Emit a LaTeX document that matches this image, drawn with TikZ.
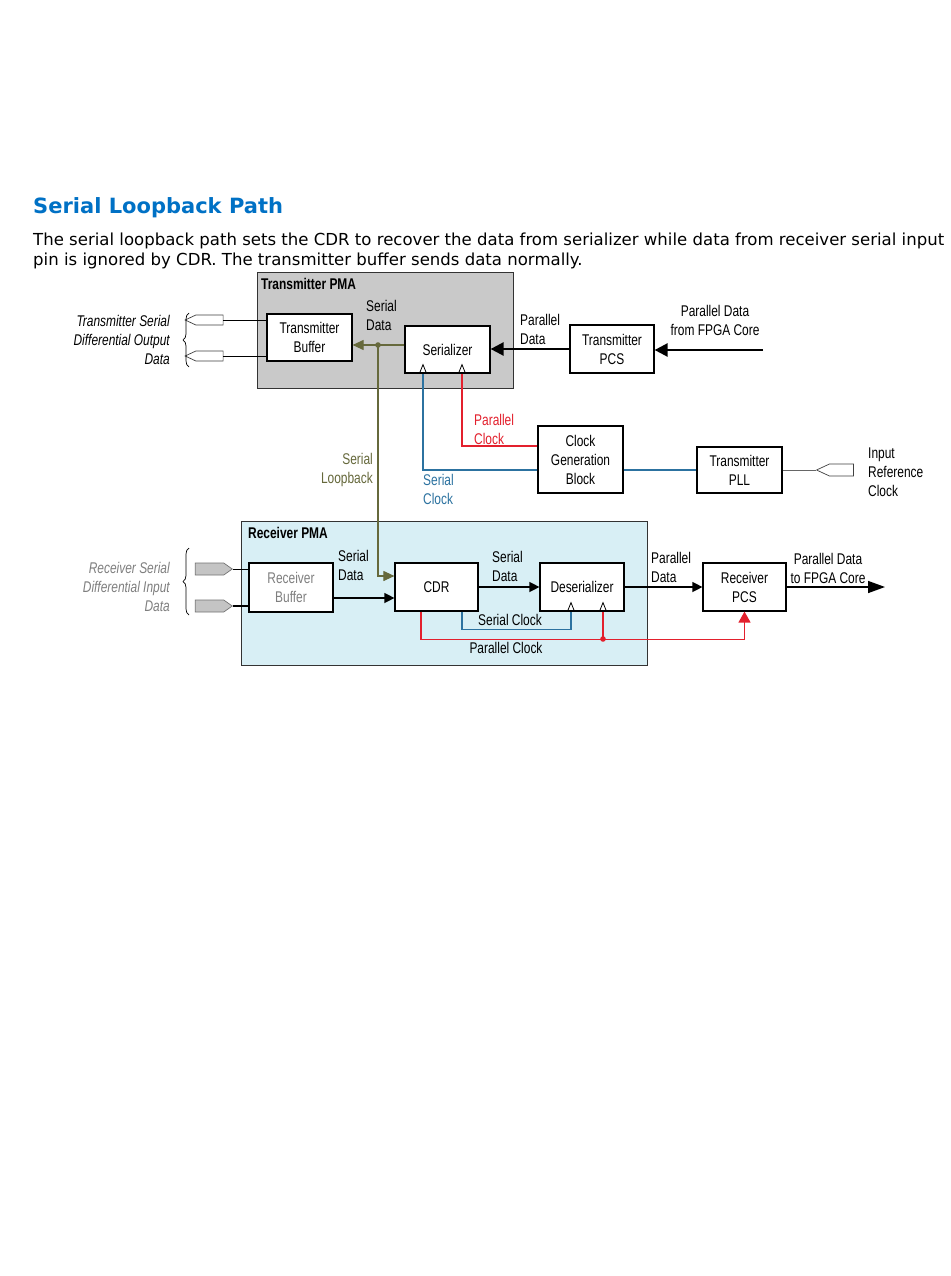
\documentclass[tikz,border=0pt]{standalone}
\usepackage{fontspec}
\usetikzlibrary{arrows.meta,calc,positioning,shapes.symbols,decorations.pathreplacing}
\newfontfamily\lbBody{DejaVu Sans}
\newfontfamily\lbCond[FakeStretch=0.77]{Liberation Sans}
\definecolor{lbTitle}{HTML}{0071C5}
\definecolor{lbTxFill}{HTML}{C9C9C9}
\definecolor{lbRxFill}{HTML}{D8EFF5}
\definecolor{lbOlive}{HTML}{66693C}
\definecolor{lbRed}{HTML}{E3202D}
\definecolor{lbBlue}{HTML}{2C72A0}
\definecolor{lbGrayText}{HTML}{7F7F7F}
\definecolor{lbPin}{HTML}{C4C4C4}
\tikzset{
 lbpic/.style={x=1pt,y=-1pt,line join=miter,font=\lbCond\fontsize{15.5}{19}\selectfont},
 blk/.style={draw,fill=white,line width=1.2pt,inner sep=0pt,minimum width=84pt,minimum height=48pt,align=center},
 pma/.style={draw=black!80,line width=1pt,inner sep=0pt},
 tag/.style={inner sep=0pt,align=left,anchor=west},
 ital/.style={font=\lbCond\itshape\fontsize{15.5}{19}\selectfont,inner sep=0pt,align=right,anchor=east},
 boldtag/.style={font=\lbCond\bfseries\fontsize{15.5}{19}\selectfont,inner sep=0pt,anchor=west},
 pinout/.style={shape=signal,signal to=west,signal pointer angle=50,draw=black!75,fill=white,line width=.7pt,
   inner sep=0pt,minimum width=38pt,minimum height=10pt},
 pinin/.style={shape=signal,signal to=east,signal pointer angle=70,draw=black!55,fill=lbPin,line width=.7pt,
   inner sep=0pt,minimum width=37pt,minimum height=12pt},
 wire/.style={draw,line width=1pt},
 brc/.style={draw,line width=.7pt,decorate,decoration={brace,amplitude=6pt}},
 dat/.style={draw,line width=1.3pt,-{Triangle[length=10pt,width=10pt]}},
 bigdat/.style={draw,line width=2.4pt,-{Triangle[length=13pt,width=13pt]}},
 outdat/.style={draw,line width=1.5pt,-{Triangle[length=17pt,width=12pt]}},
 loopw/.style={draw=lbOlive,line width=1.1pt},
 sclk/.style={draw=lbBlue,line width=1.1pt},
 pclk/.style={draw=lbRed,line width=1.4pt}
}
\newcommand{\lbClk}[2]{%
 \draw[black,line width=.8pt] ([xshift=#2pt-3.6pt]#1.south) -- ([xshift=#2pt,yshift=9pt]#1.south) -- ([xshift=#2pt+3.6pt]#1.south);}

\begin{document}
\begin{tikzpicture}[lbpic]
 \useasboundingbox[fill=white] (0,0) rectangle (950,1276);
 \node[inner sep=0pt,anchor=base west,text=lbTitle,font=\lbBody\bfseries\fontsize{21}{25}\selectfont] (title) at (33,214) {Serial Loopback Path};
 \node[inner sep=0pt,anchor=base west,font=\lbBody\fontsize{16.55}{19}\selectfont] (para1) at (33,245) {The serial loopback path sets the CDR to recover the data from serializer while data from receiver serial input};
 \node[inner sep=0pt,anchor=base west,font=\lbBody\fontsize{16.55}{19}\selectfont] (para2) at (33,265) {pin is ignored by CDR. The transmitter buffer sends data normally.};

 \node[pma,fill=lbTxFill,minimum width=256pt,minimum height=116pt] (txpma) at (385,330) {};
 \node[pma,fill=lbRxFill,minimum width=406pt,minimum height=144pt] (rxpma) at (444,593) {};
 \node[boldtag] (txpmalbl) at (261,284) {Transmitter PMA};
 \node[boldtag] (rxpmalbl) at (248,533) {Receiver PMA};

 \node[blk,minimum width=85pt,minimum height=47pt] (txbuf) at (309.5,337.5) {Transmitter\\Buffer};
 \node[blk,minimum width=85pt,minimum height=47pt] (ser) at (447.5,349.5) {Serializer};
 \node[blk] (txpcs) at (612,349) {Transmitter\\PCS};
 \node[blk,minimum width=85pt,minimum height=67pt] (clkgen) at (580.5,459.5) {Clock\\Generation\\Block};
 \node[blk,minimum width=85pt,minimum height=46pt] (txpll) at (739.5,470) {Transmitter\\PLL};
 \node[blk,minimum height=49pt,text=lbGrayText] (rxbuf) at (291,587.5) {Receiver\\Buffer};
 \node[blk,minimum width=83pt] (cdr) at (436.5,587) {CDR};
 \node[blk] (deser) at (582,587) {Deserializer};
 \node[blk,minimum width=83pt] (rxpcs) at (744.5,587) {Receiver\\PCS};

 \node[pinout] (txp1) at (209.5,320) {};
 \node[pinout] (txp2) at (209.5,356) {};
 \node[pinin] (rxp1) at (209.5,569) {};
 \node[pinin] (rxp2) at (209.5,606) {};
 \node[pinout,minimum height=12pt,minimum width=37pt] (refpin) at (841.5,470) {};
 \draw[wire] (txp1.east) -- (txp1.east -| txbuf.west);
 \draw[wire] (txp2.east) -- (txp2.east -| txbuf.west);
 \draw[wire] (rxp1.east) -- (rxp1.east -| rxbuf.west);
 \draw[wire,line width=2pt] (rxp2.east) -- (rxp2.east -| rxbuf.west);
 \draw[brc] (189,367) -- (189,313);
 \draw[brc] (189,615) -- (189,548);
 \node[ital] (txlbl) at (170,340) {Transmitter Serial\\Differential Output\\Data};
 \node[ital,text=lbGrayText] (rxlbl) at (170,587) {Receiver Serial\\Differential Input\\Data};

 \coordinate (tap) at (378,345);
 \draw[loopw,-{Triangle[length=11pt,width=10pt]}] ([yshift=4.5pt]ser.west) -- ([yshift=4.5pt]ser.west -| txbuf.east);
 \draw[loopw,-{Triangle[length=11pt,width=10pt]}] (tap) |- ([yshift=11pt]cdr.west);
 \fill[lbOlive] (tap) circle (2.8pt);

 \coordinate (fpgain) at (763,350);
 \draw[bigdat] (fpgain) -- (fpgain -| txpcs.east);
 \draw[bigdat] (txpcs.west) -- (txpcs.west -| ser.east);

 \draw[sclk] ([yshift=-10.5pt]clkgen.west) -| ([xshift=-24.5pt]ser.south);
 \draw[pclk] ([yshift=13.5pt]clkgen.west) -| ([xshift=14.5pt]ser.south);
 \draw[sclk] ([yshift=-10.5pt]clkgen.east) -- ([yshift=-10.5pt]clkgen.east -| txpll.west);
 \draw[draw=black!60,line width=.6pt] (txpll.east) -- (refpin.west);

 \draw[dat] ([yshift=-10.5pt]rxbuf.east) -- ([yshift=-10.5pt]rxbuf.east -| cdr.west);
 \draw[dat] (cdr.east) -- (deser.west);
 \draw[dat] (deser.east) -- (rxpcs.west);
 \coordinate (fpgaout) at (885,587);
 \draw[outdat] (rxpcs.east) -- (fpgaout);
 \draw[sclk] ([xshift=25.5pt]cdr.south) -- ++(0,-18pt) -| ([xshift=-11pt]deser.south);
 \draw[pclk,-{Triangle[length=11pt,width=12pt]}] ([xshift=-15.5pt]cdr.south) -- ++(0,-28pt) -| (rxpcs.south);
 \coordinate (pdot) at (603,639);
 \draw[pclk] (pdot) -- (pdot |- deser.south);
 \fill[lbRed] (pdot) circle (2.8pt);

 \lbClk{ser}{-24.5}
 \lbClk{ser}{14.5}
 \lbClk{deser}{-11}
 \lbClk{deser}{21}

 \node[tag] (sdtx) at (366,315) {Serial\\Data};
 \node[tag] (pdtx) at (520,329) {Parallel\\Data};
 \node[tag,align=center,anchor=center] (pdin) at (715,320) {Parallel Data\\from FPGA Core};
 \node[tag,text=lbRed] (pclbl) at (474,429) {Parallel\\Clock};
 \node[tag,text=lbBlue] (sclbl) at (423,489) {Serial\\Clock};
 \node[tag,anchor=east,align=right,text=lbOlive] (lplbl) at (373,470) {Serial\\Loopback};
 \node[tag] (inref) at (868,472) {Input\\Reference\\Clock};
 \node[tag] (sdrx) at (338,565) {Serial\\Data};
 \node[tag] (sdcdr) at (492,566) {Serial\\Data};
 \node[tag] (pdrx) at (651,567) {Parallel\\Data};
 \node[tag,align=center,anchor=center] (pdout) at (828,568) {Parallel Data\\to FPGA Core};
 \node[tag,anchor=center] (sclkrx) at (510,620) {Serial Clock};
 \node[tag,anchor=center] (pclkrx) at (506,648) {Parallel Clock};
\end{tikzpicture}
\end{document}
